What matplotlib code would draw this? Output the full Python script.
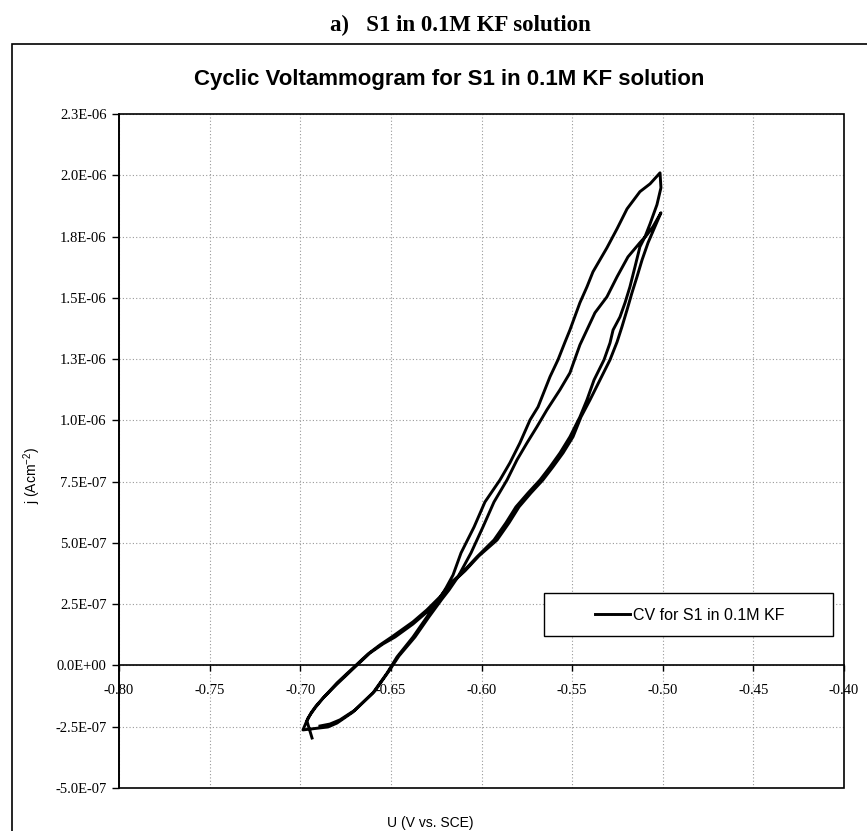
import matplotlib.pyplot as plt
from matplotlib.patches import Rectangle
import numpy as np

plt.rcParams["font.family"] = "Liberation Sans"
plt.rcParams["mathtext.default"] = "regular"

# potential in V vs. SCE, current density in 1e-6 A/cm2
# scan 1: from the start point up to the first turn at -0.50 V
u_up1 = [-0.6935, -0.6963, -0.6941, -0.6913, -0.6869, -0.6797, -0.6709, -0.6626, -0.6560, -0.6488,
         -0.6378, -0.6301, -0.6229, -0.6157, -0.6102, -0.6025, -0.5931, -0.5865, -0.5810, -0.5743,
         -0.5677, -0.5622, -0.5567, -0.5512, -0.5457, -0.5418, -0.5379, -0.5324, -0.5291, -0.5274,
         -0.5236, -0.5208, -0.5181, -0.5153, -0.5126, -0.5098, -0.5070, -0.5032, -0.5010, -0.5015]
j_up1 = [-0.296, -0.227, -0.194, -0.165, -0.129, -0.071, -0.010, 0.047, 0.084, 0.120,
         0.178, 0.227, 0.280, 0.345, 0.382, 0.443, 0.512, 0.582, 0.647, 0.704,
         0.757, 0.810, 0.867, 0.933, 1.014, 1.084, 1.165, 1.247, 1.316, 1.369,
         1.422, 1.480, 1.545, 1.627, 1.708, 1.749, 1.802, 1.880, 1.949, 2.010]

# scan 1: back down to the turn at -0.70 V
u_down1 = [-0.5070, -0.5126, -0.5197, -0.5252, -0.5308, -0.5385, -0.5418, -0.5457, -0.5512, -0.5539,
           -0.5578, -0.5622, -0.5688, -0.5732, -0.5788, -0.5843, -0.5898, -0.5981, -0.6041, -0.6113,
           -0.6157, -0.6196, -0.6229, -0.6301, -0.6378, -0.6466, -0.6521, -0.6599, -0.6709, -0.6797,
           -0.6847, -0.6985]
j_down1 = [1.965, 1.933, 1.863, 1.782, 1.704, 1.606, 1.545, 1.480, 1.369, 1.320,
           1.247, 1.178, 1.055, 1.002, 0.908, 0.827, 0.757, 0.667, 0.565, 0.459,
           0.369, 0.316, 0.276, 0.198, 0.116, 0.035, -0.031, -0.112, -0.190, -0.235,
           -0.251, -0.263]

# scan 2: up to the second turn at -0.50 V
u_up2 = [-0.6957, -0.6919, -0.6874, -0.6797, -0.6709, -0.6615, -0.6543, -0.6477, -0.6378, -0.6301,
         -0.6229, -0.6163, -0.6091, -0.6014, -0.5914, -0.5848, -0.5793, -0.5727, -0.5661, -0.5606,
         -0.5550, -0.5495, -0.5451, -0.5401, -0.5346, -0.5291, -0.5252, -0.5225, -0.5197, -0.5170,
         -0.5142, -0.5114, -0.5081, -0.5043, -0.5010]
j_up2 = [-0.214, -0.174, -0.133, -0.076, -0.014, 0.051, 0.088, 0.116, 0.169, 0.218,
         0.276, 0.337, 0.386, 0.447, 0.512, 0.582, 0.647, 0.704, 0.757, 0.810,
         0.867, 0.933, 1.014, 1.084, 1.165, 1.247, 1.320, 1.382, 1.451, 1.520,
         1.586, 1.655, 1.725, 1.790, 1.847]

# scan 2: back down to the end point
u_down2 = [-0.5054, -0.5087, -0.5126, -0.5192, -0.5252, -0.5308, -0.5374, -0.5418, -0.5457, -0.5512,
           -0.5567, -0.5639, -0.5694, -0.5749, -0.5804, -0.5859, -0.5931, -0.5992, -0.6058, -0.6130,
           -0.6179, -0.6218, -0.6290, -0.6367, -0.6455, -0.6510, -0.6588, -0.6698, -0.6781, -0.6836,
           -0.6891]
j_down2 = [1.790, 1.757, 1.725, 1.667, 1.586, 1.504, 1.439, 1.369, 1.308, 1.194,
           1.125, 1.043, 0.974, 0.908, 0.839, 0.757, 0.667, 0.565, 0.459, 0.361,
           0.308, 0.271, 0.198, 0.116, 0.039, -0.022, -0.104, -0.182, -0.222, -0.239,
           -0.247]

x_ticks = [-0.80, -0.75, -0.70, -0.65, -0.60, -0.55, -0.50, -0.45, -0.40]
x_labels = ["-0.80", "-0.75", "-0.70", "-0.65", "-0.60", "-0.55", "-0.50", "-0.45", "-0.40"]
y_ticks = [-5.0e-7, -2.5e-7, 0.0, 2.5e-7, 5.0e-7, 7.5e-7, 1.0e-6, 1.25e-6, 1.5e-6, 1.75e-6, 2.0e-6, 2.25e-6]
y_labels = ["-5.0E-07", "-2.5E-07", "0.0E+00", "2.5E-07", "5.0E-07", "7.5E-07",
            "1.0E-06", "1.3E-06", "1.5E-06", "1.8E-06", "2.0E-06", "2.3E-06"]

u = np.concatenate([u_up1, u_down1, u_up2, u_down2])
j = np.concatenate([j_up1, j_down1, j_up2, j_down2]) * 1e-6

W, H = 867, 831
fig = plt.figure(figsize=(W / 100, H / 100), dpi=100)
ax = fig.add_axes([119 / W, 43 / H, 725 / W, 674 / H])

line, = ax.plot(u, j, color="black", lw=2.1, solid_joinstyle="round", label="CV for S1 in 0.1M KF")

ax.set_xlim(-0.80, -0.40)
ax.set_ylim(-5.0e-7, 2.25e-6)
ax.set_xticks(x_ticks)
ax.set_xticklabels(x_labels)
ax.set_yticks(y_ticks)
ax.set_yticklabels(y_labels)

# x axis crosses at j = 0, plot area keeps a full border
ax.spines["bottom"].set_position(("data", 0))
ax.spines["bottom"].set_linewidth(1.2)
ax.spines["top"].set_visible(False)
ax.spines["right"].set_visible(False)
ax.spines["left"].set_linewidth(1.2)
ax.add_patch(Rectangle((0, 0), 1, 1, transform=ax.transAxes, fill=False,
                       ec="black", lw=1.2, clip_on=False, zorder=3))

ax.grid(True, color="#999999", linestyle=(0, (1, 2)), lw=0.8)
ax.tick_params(axis="x", direction="out", length=4, width=1, pad=9, labelsize=10.5)
ax.tick_params(axis="y", direction="out", length=5, width=1, pad=4, labelsize=10.5)
for lab in ax.get_xticklabels() + ax.get_yticklabels():
    lab.set_fontfamily("Liberation Serif")

# legend box
ax.add_patch(Rectangle(((544 - 119) / 725, (788 - 636) / 674), (833 - 544) / 725, 43 / 674,
                       transform=ax.transAxes, fill=True, fc="white", ec="black", lw=1.0, zorder=4))
leg = ax.legend(handles=[line], loc="center left", bbox_to_anchor=((595 - 119) / 725, (788 - 615) / 674),
                frameon=False, fontsize=11.5, handlelength=2.2, handletextpad=0.2, borderpad=0, borderaxespad=0)
leg.set_zorder(5)

# outer chart frame
fig.add_artist(Rectangle((12 / W, -0.05), 1.0, (H - 44) / H + 0.05, transform=fig.transFigure,
                         fill=False, ec="black", lw=1.2))

fig.text(460 / W, 1 - 25 / H, "a)   S1 in 0.1M KF solution", ha="center", va="center",
         fontsize=16.5, fontweight="bold", family="Liberation Serif")
fig.text(449 / W, 1 - 79 / H, "Cyclic Voltammogram for S1 in 0.1M KF solution", ha="center", va="center",
         fontsize=16, fontweight="bold")
fig.text(430 / W, 1 - 823 / H, "U (V vs. SCE)", ha="center", va="center", fontsize=10)
fig.text(32 / W, 1 - 475 / H, "j (Acm$^{-2}$)", ha="center", va="center", rotation=90, fontsize=10)

fig.savefig("out.png", dpi=100)
